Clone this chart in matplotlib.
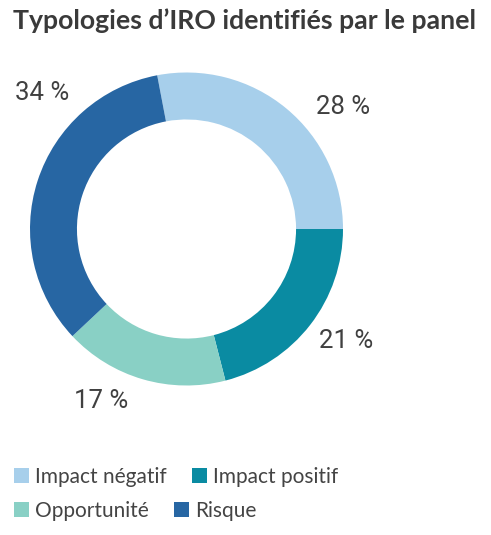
import matplotlib

matplotlib.use("Agg")
import matplotlib.pyplot as plt
from matplotlib.font_manager import FontProperties
from matplotlib.patches import Patch

# donut data
categories = ["Impact négatif", "Impact positif", "Opportunité", "Risque"]
shares = [28, 21, 17, 34]
colors = ["#a7cfeb", "#0a8ba2", "#89d0c5", "#2766a3"]
value_labels = ["28 %", "21 %", "17 %", "34 %"]

TEXT = "#3a3a3a"
W, H = 491, 535

fig = plt.figure(figsize=(W / 100, H / 100), dpi=100)
ax = fig.add_axes([0, 0, 1, 1])

center = (186.5, H - 229)
radius = 156.5
ax.pie(
    shares,
    colors=colors,
    startangle=360 * shares[0] / 100,
    counterclock=False,
    center=center,
    radius=radius,
    wedgeprops=dict(width=radius * 0.3, linewidth=0),
    frame=True,
)
ax.set_xlim(0, W)
ax.set_ylim(0, H)
ax.axis("off")

# value labels sit outside the ring
label_pos = [(343, 107), (346, 341), (101, 401), (42, 93)]
for txt, (px, py) in zip(value_labels, label_pos):
    ax.text(px, H - py, txt, ha="center", va="center", fontsize=18.5,
            color="#404040", family="Roboto", fontweight="normal")

fig.text(13 / W, 1 - 21 / H, "Typologies d’IRO identifiés par le panel",
         ha="left", va="center",
         fontproperties=FontProperties(family="Lato", weight="bold", size=19.2),
         color=TEXT)

handles = [Patch(facecolor=c, edgecolor="none") for c in colors]
for row, y in enumerate([477, 511]):
    fig.legend(handles[2 * row:2 * row + 2], categories[2 * row:2 * row + 2],
               loc="center left", bbox_to_anchor=(12 / W, 1 - y / H),
               frameon=False, ncol=2, handlelength=0.72, handleheight=0.72,
               handletextpad=0.3, columnspacing=1.2, borderaxespad=0,
               borderpad=0.1,
               prop=FontProperties(family="Lato", weight="normal", size=15),
               labelcolor="#444444")

fig.savefig("out.png", dpi=100)
